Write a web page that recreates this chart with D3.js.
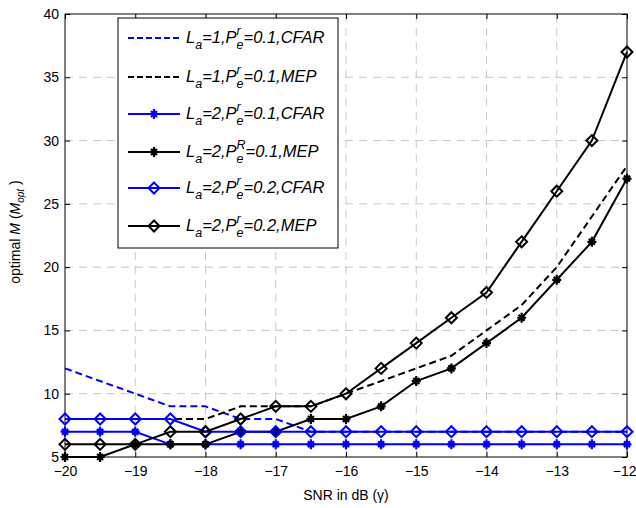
<!DOCTYPE html>
<html><head><meta charset="utf-8">
<script src="https://cdn.jsdelivr.net/npm/d3@7"></script>
<style>body{margin:0;background:#fff}</style>
</head><body>
<svg id="c" width="636" height="508"></svg>
<script>
const snr = [-20,-19.5,-19,-18.5,-18,-17.5,-17,-16.5,-16,-15.5,-15,-14.5,-14,-13.5,-13,-12.5,-12];
const la1CfarP01 = [12,11,10,9,9,8,8,7,7,7,7,7,7,7,7,7,7];
const la1MepP01  = [8,8,8,8,8,9,9,9,10,11,12,13,15,17,20,24,28];
const la2CfarP01 = [7,7,7,6,6,6,6,6,6,6,6,6,6,6,6,6,6];
const la2MepP01  = [5,5,6,6,6,7,7,8,8,9,11,12,14,16,19,22,27];
const la2CfarP02 = [8,8,8,8,7,7,7,7,7,7,7,7,7,7,7,7,7];
const la2MepP02  = [6,6,6,7,7,8,9,9,10,12,14,16,18,22,26,30,37];
const xTicks = [-20,-19,-18,-17,-16,-15,-14,-13,-12];
const yTicks = [5,10,15,20,25,30,35,40];

const series = [
  {vals: la1CfarP01, color:"#0000ff", dash:"7,4", marker:null, La:"1", sup:"r", p:"0.1", k:"CFAR"},
  {vals: la1MepP01,  color:"#000000", dash:"7,4", marker:null, La:"1", sup:"r", p:"0.1", k:"MEP"},
  {vals: la2CfarP01, color:"#0000ff", dash:null, marker:"star", La:"2", sup:"r", p:"0.1", k:"CFAR"},
  {vals: la2MepP01,  color:"#000000", dash:null, marker:"star", La:"2", sup:"R", p:"0.1", k:"MEP"},
  {vals: la2CfarP02, color:"#0000ff", dash:null, marker:"diamond", La:"2", sup:"r", p:"0.2", k:"CFAR"},
  {vals: la2MepP02,  color:"#000000", dash:null, marker:"diamond", La:"2", sup:"r", p:"0.2", k:"MEP"}
];

const L=65, R=627, T=14, B=457;
const svg = d3.select("#c");
const x = d3.scaleLinear().domain([-20,-12]).range([L,R]);
const y = d3.scaleLinear().domain([5,40]).range([B,T]);
const font = "Liberation Sans, Arial, sans-serif";

// grid
const g = svg.append("g");
g.selectAll(".gx").data(xTicks.slice(1,-1)).enter().append("line")
  .attr("x1",d=>x(d)).attr("x2",d=>x(d)).attr("y1",T).attr("y2",B)
  .attr("stroke","#c8c8c8").attr("stroke-dasharray","8,6").attr("stroke-width",1);
g.selectAll(".gy").data(yTicks.slice(1,-1)).enter().append("line")
  .attr("y1",d=>y(d)).attr("y2",d=>y(d)).attr("x1",L).attr("x2",R)
  .attr("stroke","#c8c8c8").attr("stroke-dasharray","8,6").attr("stroke-width",1);

// axes
const ax = svg.append("g").attr("transform",`translate(0,${B})`)
  .call(d3.axisBottom(x).tickValues(xTicks).tickFormat(d3.format("d")).tickSizeInner(-5).tickSizeOuter(0).tickPadding(9));
const ay = svg.append("g").attr("transform",`translate(${L},0)`)
  .call(d3.axisLeft(y).tickValues(yTicks).tickFormat(d3.format("d")).tickSizeInner(-5).tickSizeOuter(0).tickPadding(6));
const at = svg.append("g").attr("transform",`translate(0,${T})`)
  .call(d3.axisTop(x).tickValues(xTicks).tickFormat("").tickSizeInner(-5).tickSizeOuter(0));
const ar = svg.append("g").attr("transform",`translate(${R},0)`)
  .call(d3.axisRight(y).tickValues(yTicks).tickFormat("").tickSizeInner(-5).tickSizeOuter(0));
[ax,ay,at,ar].forEach(a=>{
  a.select(".domain").remove();
  a.selectAll("line").attr("stroke","#000");
  a.selectAll("text").attr("font-family",font).attr("font-size",14).attr("fill","#000");
});
ax.selectAll(".tick").filter(d=>d===-12).select("text").attr("text-anchor","end").attr("dx",9);
svg.append("rect").attr("x",L).attr("y",T).attr("width",R-L).attr("height",B-T)
  .attr("fill","none").attr("stroke","#000").attr("stroke-width",1);

// markers
function starPath(r){
  const d=r*0.6;
  return `M${-r*0.9},0L${r*0.9},0M0,${-r}L0,${r}M${-d},${-d}L${d},${d}M${-d},${d}L${d},${-d}`;
}
function diamondPath(r){ return `M0,${-r}L${r},0L0,${r}L${-r},0Z`; }
function drawMarker(sel, type, color){
  if(type==="star") sel.append("path").attr("d",starPath(5)).attr("stroke",color).attr("stroke-width",2.2).attr("fill","none");
  else if(type==="diamond") sel.append("path").attr("d",diamondPath(5.5)).attr("stroke",color).attr("stroke-width",2).attr("fill","none");
}

const line = d3.line().x((d,i)=>x(snr[i])).y(d=>y(d));
const plot = svg.append("g");
series.forEach(s=>{
  plot.append("path").datum(s.vals).attr("d",line).attr("fill","none")
    .attr("stroke",s.color).attr("stroke-width",2)
    .attr("stroke-dasharray",s.dash).attr("stroke-linejoin","miter");
  if(s.marker){
    s.vals.forEach((v,i)=>{
      const m = plot.append("g").attr("transform",`translate(${x(snr[i])},${y(v)})`);
      drawMarker(m,s.marker,s.color);
    });
  }
});

// legend
const lg = svg.append("g");
lg.append("rect").attr("x",118).attr("y",18).attr("width",220).attr("height",230)
  .attr("fill","#fff").attr("stroke","#000").attr("stroke-width",1);
const rowY = [38,77,114,152,188,226];
function piece(gr, txt, px, py, size){
  const t = gr.append("text").attr("x",px).attr("y",py).attr("font-family",font)
    .attr("font-style","italic").attr("font-size",size).attr("fill","#000").text(txt);
  return t.node().getComputedTextLength();
}
series.forEach((s,i)=>{
  const yy = rowY[i];
  lg.append("line").attr("x1",128).attr("x2",180).attr("y1",yy).attr("y2",yy)
    .attr("stroke",s.color).attr("stroke-width",2).attr("stroke-dasharray",s.dash ? "6,3" : null);
  if(s.marker){
    const m = lg.append("g").attr("transform",`translate(154,${yy})`);
    drawMarker(m,s.marker,s.color);
  }
  const fs=16.5, ss=12.5, by=yy+5;
  let cx=186;
  cx += piece(lg,"L",cx,by,fs);
  cx += piece(lg,"a",cx,by+6,ss);
  cx += piece(lg,"="+s.La+",P",cx,by,fs);
  const w1 = piece(lg,s.sup,cx,by-8,ss);
  const w2 = piece(lg,"e",cx,by+6,ss);
  cx += Math.max(w1,w2);
  piece(lg,"="+s.p+","+s.k,cx,by,fs);
});

// axis labels
svg.append("text").attr("x",(L+R)/2).attr("y",500).attr("text-anchor","middle")
  .attr("font-family",font).attr("font-size",14).attr("fill","#000")
  .text("SNR in dB (γ)");
const yl = svg.append("text").attr("transform","translate(20,232) rotate(-90)")
  .attr("text-anchor","middle").attr("font-family",font).attr("font-size",14).attr("fill","#000");
yl.append("tspan").text("optimal ");
yl.append("tspan").attr("font-style","italic").text("M");
yl.append("tspan").text(" (");
yl.append("tspan").attr("font-style","italic").text("M");
yl.append("tspan").attr("font-style","italic").attr("font-size",10).attr("dy",4).text("opt");
yl.append("tspan").attr("dy",-4).text(" )");
</script>
</body></html>
